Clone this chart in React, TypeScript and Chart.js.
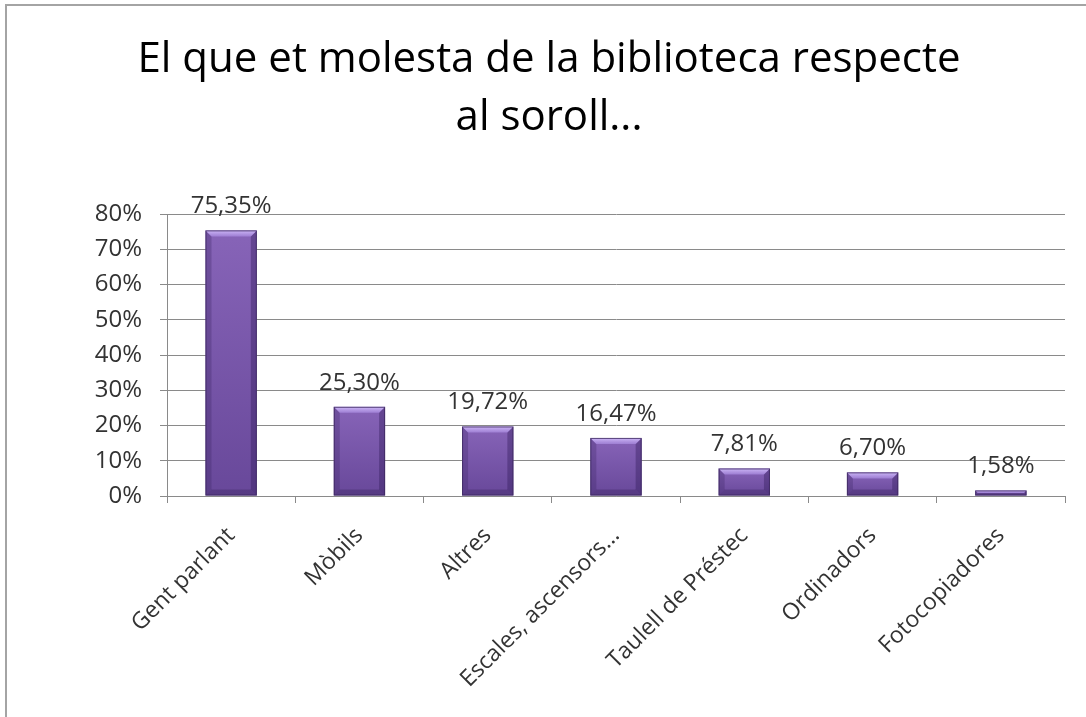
import React, { useEffect, useRef } from "react";
import { Chart, registerables } from "chart.js";

Chart.register(...registerables);

const titleLines = ["El que et molesta de la biblioteca respecte", "al soroll..."];
const categories = [
  "Gent parlant",
  "Mòbils",
  "Altres",
  "Escales, ascensors...",
  "Taulell de Préstec",
  "Ordinadors",
  "Fotocopiadores",
];
const values = [75.35, 25.3, 19.72, 16.47, 7.81, 6.7, 1.58];
const yMax = 80;
const yStep = 10;

const FONT = "'Open Sans', 'DejaVu Sans', sans-serif";

const fmt = (v: number) => v.toFixed(2).replace(".", ",") + "%";

const titlePlugin = {
  id: "customTitle",
  afterDraw(chart: any) {
    const ctx = chart.ctx;
    ctx.save();
    ctx.fillStyle = "#000000";
    ctx.font = `42px ${FONT}`;
    ctx.textAlign = "center";
    ctx.textBaseline = "alphabetic";
    titleLines.forEach((line, i) => {
      ctx.fillText(line, 549, 72 + i * 58);
    });
    ctx.restore();
  },
};

const bevelBars = {
  id: "bevelBars",
  afterDatasetsDraw(chart: any) {
    const ctx = chart.ctx;
    const meta = chart.getDatasetMeta(0);
    meta.data.forEach((bar: any, i: number) => {
      const w = bar.width;
      const x0 = bar.x - w / 2;
      const x1 = bar.x + w / 2;
      const y0 = bar.y;
      const y1 = bar.base;
      const h = y1 - y0;
      const b = Math.min(6, h / 2);
      ctx.save();
      const g = ctx.createLinearGradient(0, y0, 0, y1);
      g.addColorStop(0, "#8764b8");
      g.addColorStop(1, "#68489a");
      ctx.fillStyle = g;
      ctx.fillRect(x0, y0, w, h);
      ctx.fillStyle = "rgba(60,35,100,0.3)";
      ctx.beginPath();
      ctx.moveTo(x0, y0);
      ctx.lineTo(x0 + b, y0 + b);
      ctx.lineTo(x0 + b, y1 - b);
      ctx.lineTo(x0, y1);
      ctx.closePath();
      ctx.fill();
      ctx.fillStyle = "rgba(50,28,90,0.4)";
      ctx.beginPath();
      ctx.moveTo(x1, y0);
      ctx.lineTo(x1 - b, y0 + b);
      ctx.lineTo(x1 - b, y1 - b);
      ctx.lineTo(x1, y1);
      ctx.closePath();
      ctx.fill();
      const tg = ctx.createLinearGradient(0, y0, 0, y0 + b);
      tg.addColorStop(0, "rgba(215,195,255,0.9)");
      tg.addColorStop(1, "rgba(170,140,225,0.7)");
      ctx.fillStyle = tg;
      ctx.beginPath();
      ctx.moveTo(x0, y0);
      ctx.lineTo(x1, y0);
      ctx.lineTo(x1 - b, y0 + b);
      ctx.lineTo(x0 + b, y0 + b);
      ctx.closePath();
      ctx.fill();
      ctx.fillStyle = "rgba(45,25,80,0.3)";
      ctx.beginPath();
      ctx.moveTo(x0, y1);
      ctx.lineTo(x1, y1);
      ctx.lineTo(x1 - b, y1 - b);
      ctx.lineTo(x0 + b, y1 - b);
      ctx.closePath();
      ctx.fill();
      ctx.strokeStyle = "rgba(60,40,95,0.8)";
      ctx.lineWidth = 1;
      ctx.strokeRect(x0 + 0.5, y0 + 0.5, w - 1, h - 1);
      ctx.fillStyle = "#333333";
      ctx.font = `24px ${FONT}`;
      ctx.textAlign = "center";
      ctx.textBaseline = "alphabetic";
      ctx.fillText(fmt(values[i]), bar.x, y0 - 17);
      ctx.restore();
    });
  },
};

export default function App() {
  const ref = useRef<HTMLCanvasElement | null>(null);
  useEffect(() => {
    if (!ref.current) return;
    const chart = new Chart(ref.current, {
      type: "bar",
      data: {
        labels: categories,
        datasets: [
          {
            data: values,
            backgroundColor: "rgba(0,0,0,0)",
            borderWidth: 0,
            barPercentage: 0.4,
            categoryPercentage: 1,
          },
        ],
      },
      options: {
        responsive: false,
        animation: false,
        layout: { padding: { top: 214, right: 21, bottom: 0, left: 0 } },
        plugins: {
          legend: { display: false },
          tooltip: { enabled: false },
          title: { display: false },
        },
        scales: {
          x: {
            grid: {
              display: true,
              drawOnChartArea: false,
              drawTicks: true,
              tickLength: 7,
              color: "#8a8a8a",
              offset: true,
            },
            border: { display: true, color: "#8a8a8a" },
            ticks: {
              color: "#333333",
              font: { family: FONT, size: 23 },
              minRotation: 45,
              maxRotation: 45,
              autoSkip: false,
              padding: 19,
            },
            afterFit: (s: any) => {
              s.height = 717 - 496;
            },
          },
          y: {
            min: 0,
            max: yMax,
            grid: { color: "#8a8a8a", tickLength: 7, drawTicks: true },
            border: { display: true, color: "#8a8a8a" },
            ticks: {
              stepSize: yStep,
              color: "#333333",
              font: { family: FONT, size: 24 },
              padding: 18,
              callback: (v: any) => v + "%",
            },
            afterFit: (s: any) => {
              s.width = 167;
            },
          },
        },
      },
      plugins: [bevelBars, titlePlugin],
    });
    return () => chart.destroy();
  }, []);

  return (
    <div
      style={{
        position: "fixed",
        left: 0,
        top: 0,
        width: 1086,
        height: 717,
        overflow: "hidden",
        background: "#ffffff",
      }}
    >
      <div
        style={{
          position: "absolute",
          left: 5,
          top: 4,
          width: 1300,
          height: 900,
          border: "2px solid #a4a4a4",
          boxSizing: "border-box",
        }}
      />
      <canvas
        ref={ref}
        width={1086}
        height={717}
        style={{ position: "absolute", left: 0, top: 0, width: 1086, height: 717 }}
      />
    </div>
  );
}
